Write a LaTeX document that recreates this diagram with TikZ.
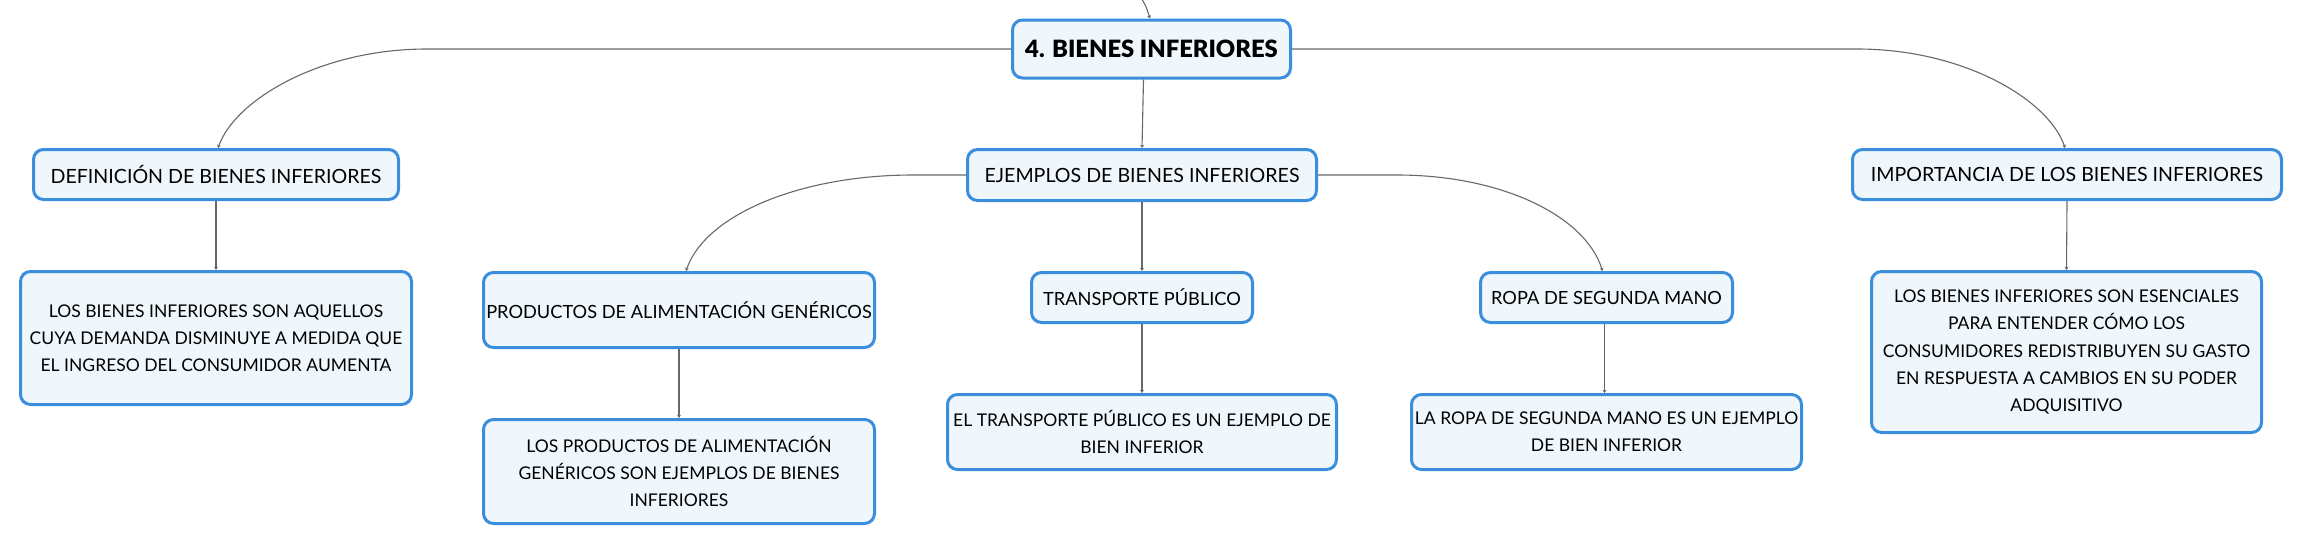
\documentclass[tikz,border=0pt]{standalone}
\usepackage{fontspec}
\setmainfont{Lato}
\newfontfamily\rootfont{Lato Black}
\usetikzlibrary{arrows.meta,calc}
\definecolor{bordblue}{HTML}{3A8EDB}
\definecolor{fillblue}{HTML}{EFF7FD}
\definecolor{linegray}{HTML}{686868}
\begin{document}
\begin{tikzpicture}[x=0.5pt,y=-0.5pt,
  box/.style={draw=bordblue, fill=fillblue, line width=1.5pt, rounded corners=5pt,
    align=center, inner sep=0pt, font=\fontsize{9.1}{13.8}\selectfont, text=black},
  widebox/.style={box, font=\fontsize{9.8}{13.8}\selectfont},
  leafbox/.style={box, font=\fontsize{8.75}{13.6}\selectfont},
  rootbox/.style={box, font=\fontsize{11.9}{14}\selectfont\rootfont},
  conn/.style={draw=linegray, line width=0.55pt, -{Stealth[length=1.6pt,width=2pt]}}
]
\useasboundingbox (0,0) rectangle (2303,546);
\node[rootbox, minimum width=139pt, minimum height=29pt] (root) at (1151.5,49) {4. BIENES INFERIORES};
\node[widebox, minimum width=174.5pt, minimum height=25.5pt] (ejem) at (1142,175) {EJEMPLOS DE BIENES INFERIORES};
\node[widebox, minimum width=182.5pt, minimum height=25pt] (def) at (216,174.5) {DEFINICIÓN DE BIENES INFERIORES};
\node[widebox, minimum width=214.5pt, minimum height=25pt] (imp) at (2067,174.5) {IMPORTANCIA DE LOS BIENES INFERIORES};
\node[leafbox, minimum width=195.5pt, minimum height=66.5pt] (defc) at (216,338) {LOS BIENES INFERIORES SON AQUELLOS\\CUYA DEMANDA DISMINUYE A MEDIDA QUE\\EL INGRESO DEL CONSUMIDOR AUMENTA};
\node[box, minimum width=195.5pt, minimum height=37.5pt] (prod) at (679,310) {PRODUCTOS DE ALIMENTACIÓN GENÉRICOS};
\node[leafbox, minimum width=195.5pt, minimum height=52pt] (prodc) at (679,471.5) {LOS PRODUCTOS DE ALIMENTACIÓN\\GENÉRICOS SON EJEMPLOS DE BIENES\\INFERIORES};
\node[box, minimum width=110.5pt, minimum height=25pt] (trans) at (1142,297.5) {TRANSPORTE PÚBLICO};
\node[leafbox, minimum width=194.5pt, minimum height=37.5pt] (transc) at (1142,432) {EL TRANSPORTE PÚBLICO ES UN EJEMPLO DE\\BIEN INFERIOR};
\node[box, minimum width=126pt, minimum height=25pt] (ropa) at (1606.5,297.5) {ROPA DE SEGUNDA MANO};
\node[leafbox, minimum width=195pt, minimum height=37.5pt] (ropac) at (1606.5,432) {LA ROPA DE SEGUNDA MANO ES UN EJEMPLO\\DE BIEN INFERIOR};
\node[leafbox, minimum width=195pt, minimum height=80.5pt] (impc) at (2066.5,352) {LOS BIENES INFERIORES SON ESENCIALES\\PARA ENTENDER CÓMO LOS\\CONSUMIDORES REDISTRIBUYEN SU GASTO\\EN RESPUESTA A CAMBIOS EN SU PODER\\ADQUISITIVO};

\coordinate (up) at (1140,-4);
\draw[conn] (up) .. controls (1146,6) .. ($(root.north)+(-1.5,0)$);
\draw[conn] (root.west) -- (427,49) .. controls (320,49) and (235,100) .. ($(def.north)+(2,0)$);
\draw[conn] (root.east) -- (1857,49) .. controls (1964,49) and (2049,100) .. ($(imp.north)+(-2,0)$);
\draw[conn] ($(root.south)+(-8,0)$) -- (ejem.north);
\draw[conn] (ejem.west) -- (913,175) .. controls (800,175) and (705,215) .. ($(prod.north)+(7,0)$);
\draw[conn] (ejem.south) -- (trans.north);
\draw[conn] (ejem.east) -- (1397,175) .. controls (1500,175) and (1585,215) .. ($(ropa.north)+(-4,0)$);
\draw[conn] (def.south) -- (defc.north);
\draw[conn] (prod.south) -- (prodc.north);
\draw[conn] (trans.south) -- (transc.north);
\draw[conn] ($(ropa.south)+(-2,0)$) -- ($(ropac.north)+(-2,0)$);
\draw[conn] (imp.south) -- (impc.north);
\end{tikzpicture}
\end{document}
